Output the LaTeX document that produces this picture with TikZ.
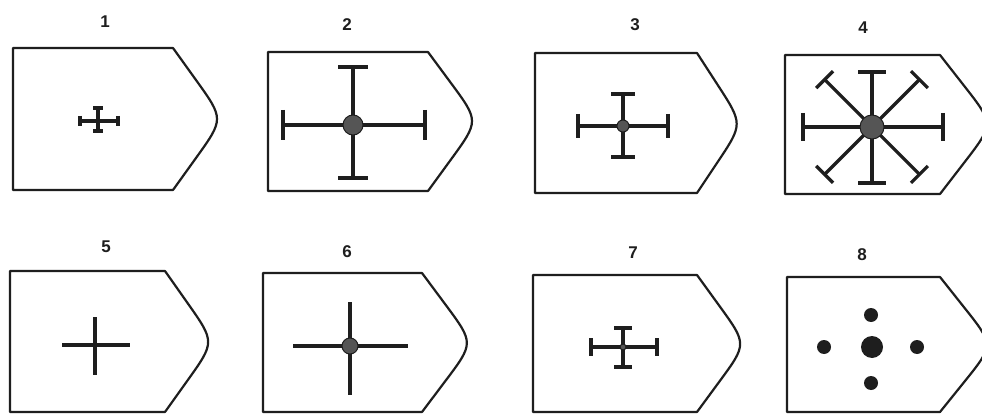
\documentclass[tikz,border=0pt]{standalone}
\usepackage{fontspec}
\setmainfont{Liberation Sans}
\usepackage{xcolor}
\usepackage{tikz}
\usetikzlibrary{calc}
\definecolor{inkBlack}{HTML}{1E1E1E}
\definecolor{hubGrey}{HTML}{555555}

% shield outline: left, top, corner, tip x, tip y, bottom
\newcommand{\shield}[6]{%
  \draw[outline] (#1,#2) -- (#3,#2) -- ($(#3,#2)!0.45!(#4,#5)$)
    .. controls (#4,#5) .. ($(#4,#5)!0.55!(#3,#6)$) -- (#3,#6) -- (#1,#6) -- cycle;}
% capped cross: [extra], centre, left, right, up, down, half cap
\newcommand{\capcross}[8][]{%
  \draw[arm,#1] (#2-#4,#3) -- (#2+#5,#3);
  \draw[arm,#1] (#2,#3-#6) -- (#2,#3+#7);
  \draw[arm,#1] (#2-#4,#3-#8) -- (#2-#4,#3+#8);
  \draw[arm,#1] (#2+#5,#3-#8) -- (#2+#5,#3+#8);
  \draw[arm,#1] (#2-#8,#3-#6) -- (#2+#8,#3-#6);
  \draw[arm,#1] (#2-#8,#3+#7) -- (#2+#8,#3+#7);}

\begin{document}
\begin{tikzpicture}[x=1pt, y=-1pt,
  outline/.style={draw=inkBlack, line width=2.2pt, line join=round},
  arm/.style={draw=inkBlack, line width=3.6pt},
  hub/.style={circle, fill=hubGrey, draw=inkBlack, line width=1pt, inner sep=0pt},
  dot/.style={circle, fill=inkBlack, inner sep=0pt},
  lbl/.style={font=\fontsize{17}{17}\selectfont\bfseries, text=inkBlack},
]
  \fill[white] (0,0) rectangle (982,414);
  \clip (0,0) rectangle (982,414);

  % labels
  \node[lbl] (lbl1) at (105,22)  {1};
  \node[lbl] (lbl2) at (347,25)  {2};
  \node[lbl] (lbl3) at (635,25)  {3};
  \node[lbl] (lbl4) at (863,28)  {4};
  \node[lbl] (lbl5) at (106,247) {5};
  \node[lbl] (lbl6) at (347,252) {6};
  \node[lbl] (lbl7) at (633,253) {7};
  \node[lbl] (lbl8) at (862,255) {8};

  % outlines
  \shield{13}{48}{173}{224}{119}{190}
  \shield{268}{52}{428}{479}{121}{191}
  \shield{535}{53}{697}{743}{124}{193}
  \shield{785}{55}{940}{994}{124}{194}
  \shield{10}{271}{165}{215}{342}{412}
  \shield{263}{273}{422}{474}{343}{412}
  \shield{533}{275}{697}{747}{344}{412}
  \shield{787}{277}{940}{994}{345}{412}

  % 1
  \capcross[line width=3.2pt]{98}{121}{18}{20}{13}{10}{5}
  % 2
  \capcross{353}{125}{70}{72}{58}{53}{15}
  \node[hub, minimum size=20pt] (hub2) at (353,125) {};
  % 3
  \capcross[line width=3.2pt]{623}{126}{45}{45}{32}{31}{12}
  \node[hub, minimum size=12pt] (hub3) at (623,126) {};
  % 4
  \capcross{872}{127}{69}{71}{55}{56}{14}
  \foreach \a in {45,135,225,315} {
    \draw[arm, line width=3.2pt] (872,127) -- ++(\a:67);
    \draw[arm, line width=3.2pt] ($(872,127)+(\a:67)+(\a+90:12)$) -- ++(\a-90:24);
  }
  \node[hub, minimum size=24pt] (hub4) at (872,127) {};
  % 5
  \draw[arm] (62,345) -- (130,345);
  \draw[arm] (95,317) -- (95,375);
  % 6
  \draw[arm] (293,346) -- (408,346);
  \draw[arm] (350,302) -- (350,395);
  \node[hub, minimum size=16pt] (hub6) at (350,346) {};
  % 7
  \capcross[line width=3.2pt]{623}{347}{32}{34}{19}{20}{9}
  \node[hub, minimum size=6pt] (hub7) at (623,347) {};
  % 8
  \node[dot, minimum size=22pt] (d0) at (872,347) {};
  \node[dot, minimum size=14pt] (d1) at (871,315) {};
  \node[dot, minimum size=14pt] (d2) at (871,383) {};
  \node[dot, minimum size=14pt] (d3) at (824,347) {};
  \node[dot, minimum size=14pt] (d4) at (917,347) {};
\end{tikzpicture}
\end{document}
